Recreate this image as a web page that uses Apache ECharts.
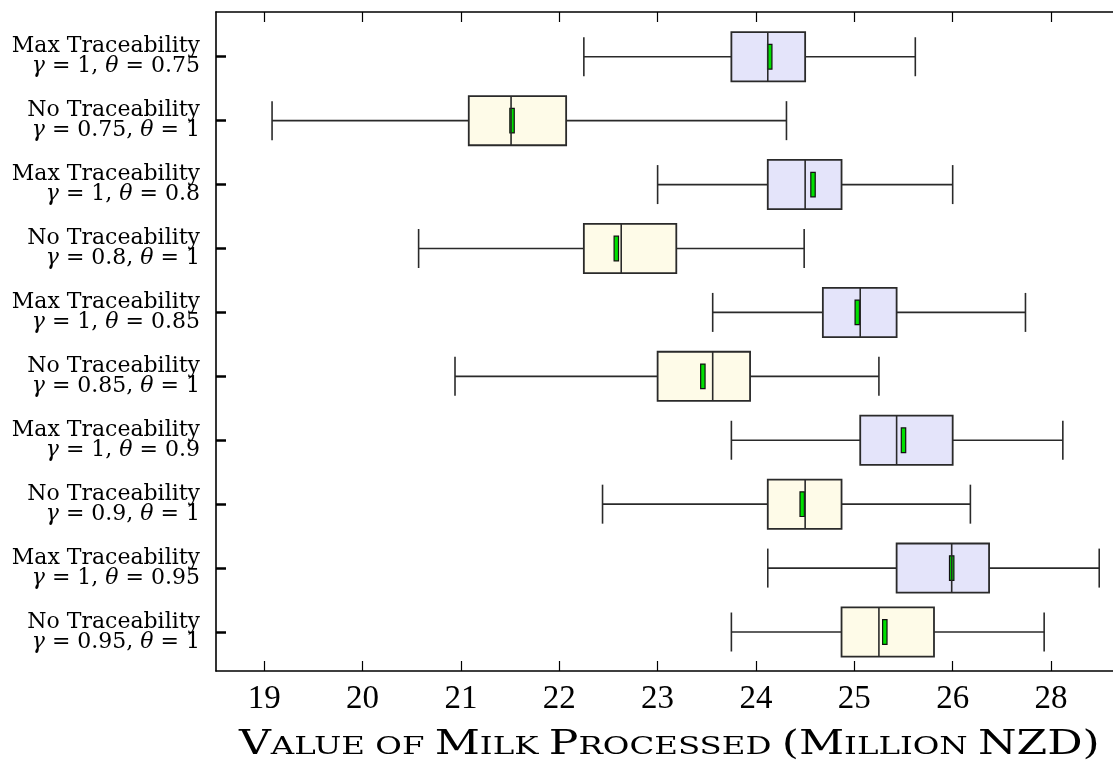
<!DOCTYPE html>
<html>
<head>
<meta charset="utf-8">
<script src="https://cdn.jsdelivr.net/npm/echarts@6/dist/echarts.min.js"></script>
<style>
html,body{margin:0;padding:0;background:#fff;}
#chart{width:1113px;height:772px;}
</style>
</head>
<body>
<div id="chart"></div>
<script>
// ---- data (top to bottom) ----
const rowNames = ['Max Traceability','No Traceability','Max Traceability','No Traceability','Max Traceability','No Traceability','Max Traceability','No Traceability','Max Traceability','No Traceability'];
const gammaVals = ['1','0.75','1','0.8','1','0.85','1','0.9','1','0.95'];
const thetaVals = ['0.75','1','0.8','1','0.85','1','0.9','1','0.95','1'];
const groups = ['max','no','max','no','max','no','max','no','max','no'];
const lowWhisker = [22.25, 19.08, 23.00, 20.57, 23.56, 20.94, 23.75, 22.44, 24.12, 23.75];
const q1Vals     = [23.75, 21.08, 24.12, 22.25, 24.68, 23.00, 25.06, 24.12, 25.43, 24.87];
const medianVals = [24.12, 21.51, 24.50, 22.63, 25.06, 23.56, 25.43, 24.50, 25.99, 25.25];
const q3Vals     = [24.50, 22.07, 24.87, 23.19, 25.43, 23.94, 26.00, 24.87, 26.37, 25.81];
const highWhisker= [25.62, 24.31, 26.00, 24.49, 26.74, 25.25, 27.12, 26.18, 27.49, 26.93];
const meanVals   = [24.14, 21.52, 24.58, 22.58, 25.03, 23.46, 25.50, 24.47, 25.99, 25.31];
const xTickValues = [19, 20, 21, 22, 23, 24, 25, 26, 27];
const xTickLabels = ['19','20','21','22','23','24','25','26','28'];
const axisTitle = [['c','V'],['s','ALUE OF '],['c','M'],['s','ILK '],['c','P'],['s','ROCESSED '],['c','(M'],['s','ILLION '],['c','NZD)']];

const rowIdx = rowNames.map((_, i) => i);
const boxColors = { max: '#e4e4fa', no: '#fefbe8' };

const data = rowIdx.map(i => ({
  value: [i, lowWhisker[i], q1Vals[i], medianVals[i], q3Vals[i], highWhisker[i], meanVals[i]],
  group: groups[i]
}));

function renderItem(params, api) {
  const yi = api.value(0);
  const unit = api.size([0, 1])[1];
  const pLow = api.coord([api.value(1), yi]);
  const pQ1 = api.coord([api.value(2), yi]);
  const pMed = api.coord([api.value(3), yi]);
  const pQ3 = api.coord([api.value(4), yi]);
  const pHigh = api.coord([api.value(5), yi]);
  const pMean = api.coord([api.value(6), yi]);
  const cy = pLow[1];
  const boxH = unit * 0.77, capH = unit * 0.61, meanH = unit * 0.385;
  const line = {stroke: '#2a2a2a', lineWidth: 1.6};
  const fill = boxColors[groups[params.dataIndex]];
  return {
    type: 'group',
    children: [
      {type: 'line', shape: {x1: pLow[0], y1: cy, x2: pQ1[0], y2: cy}, style: line},
      {type: 'line', shape: {x1: pQ3[0], y1: cy, x2: pHigh[0], y2: cy}, style: line},
      {type: 'line', shape: {x1: pLow[0], y1: cy - capH/2, x2: pLow[0], y2: cy + capH/2}, style: line},
      {type: 'line', shape: {x1: pHigh[0], y1: cy - capH/2, x2: pHigh[0], y2: cy + capH/2}, style: line},
      {type: 'rect', shape: {x: pQ1[0], y: cy - boxH/2, width: pQ3[0] - pQ1[0], height: boxH},
        style: {fill: fill, stroke: '#2a2a2a', lineWidth: 1.8}},
      {type: 'rect', shape: {x: pMean[0] - 2.2, y: cy - meanH/2, width: 4.4, height: meanH},
        style: {fill: '#00e000', stroke: '#111', lineWidth: 1.2}},
      {type: 'line', shape: {x1: pMed[0], y1: cy - boxH/2, x2: pMed[0], y2: cy + boxH/2}, style: {stroke: '#2a2a2a', lineWidth: 1.6}}
    ]
  };
}

const titleRich = {
  c: {fontFamily: 'DejaVu Serif', fontSize: 34, fill: '#000', verticalAlign: 'bottom'},
  s: {fontFamily: 'DejaVu Serif', fontSize: 25, fill: '#000', verticalAlign: 'bottom', padding: [0,0,2,0]}
};
const titleText = axisTitle.map(p => '{' + p[0] + '|' + p[1] + '}').join('');

const chart = echarts.init(document.getElementById('chart'), null, {renderer: 'canvas'});
chart.setOption({
  animation: false,
  backgroundColor: '#fff',
  grid: {left: 216, right: 0, top: 12, bottom: 101, containLabel: false},
  xAxis: [{
    type: 'value', position: 'bottom', min: 18.51, max: 27.63,
    axisLine: {show: true, onZero: false, lineStyle: {color: '#000', width: 1.6}},
    axisTick: {show: true, inside: true, length: 10, customValues: xTickValues, lineStyle: {color: '#000', width: 1.2}},
    axisLabel: {show: true, customValues: xTickValues, margin: 12,
      formatter: v => xTickLabels[xTickValues.indexOf(Math.round(v))],
      fontFamily: 'Liberation Serif', fontSize: 33, color: '#000'},
    splitLine: {show: false}
  }, {
    type: 'value', position: 'top', min: 18.51, max: 27.63,
    axisLine: {show: true, onZero: false, lineStyle: {color: '#000', width: 1.6}},
    axisTick: {show: true, inside: true, length: 10, customValues: xTickValues, lineStyle: {color: '#000', width: 1.2}},
    axisLabel: {show: false},
    splitLine: {show: false}
  }],
  yAxis: {
    type: 'value', min: -0.7, max: 9.61, inverse: true,
    axisLine: {show: true, onZero: false, lineStyle: {color: '#000', width: 1.6}},
    axisTick: {show: true, inside: true, length: 10, customValues: rowIdx, lineStyle: {color: '#000', width: 2.5}},
    axisLabel: {show: true, customValues: rowIdx, margin: 16, align: 'right',
      formatter: v => {
        const i = Math.round(v);
        return '{n|' + rowNames[i] + '}\n{g|γ}{n| = ' + gammaVals[i] + ', }{g|θ}{n| = ' + thetaVals[i] + '}';
      },
      rich: {
        n: {fontFamily: 'DejaVu Serif', fontSize: 22, color: '#000', lineHeight: 20},
        g: {fontFamily: 'DejaVu Serif', fontSize: 22, fontStyle: 'italic', color: '#000', lineHeight: 20}
      }
    },
    splitLine: {show: false}
  },
  graphic: [{
    type: 'text', x: 239, y: 745, scaleX: 1.297, scaleY: 1,
    style: {text: titleText, rich: titleRich, x: 0, y: 0, align: 'left', verticalAlign: 'middle',
      fontFamily: 'DejaVu Serif', fontSize: 34, fill: '#000'}
  }],
  series: [{
    type: 'custom',
    renderItem: renderItem,
    encode: {x: [1, 2, 3, 4, 5, 6], y: 0},
    data: data,
    clip: false
  }]
});
</script>
</body>
</html>
